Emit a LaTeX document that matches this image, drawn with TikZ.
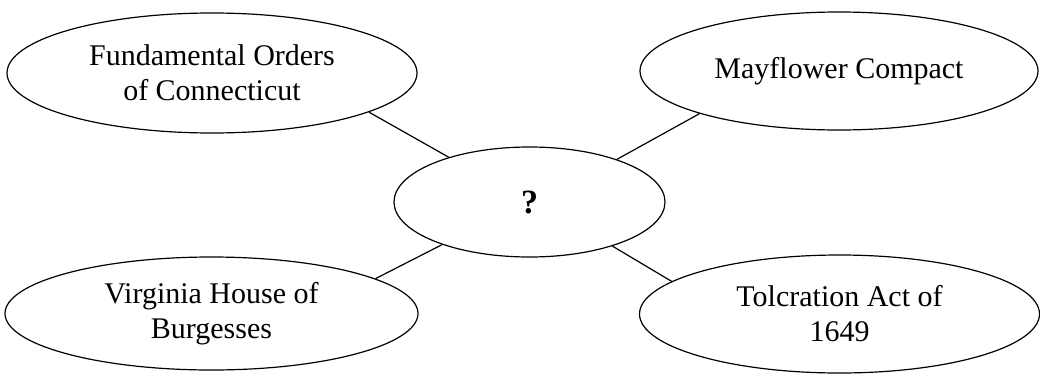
\documentclass[tikz,border=0pt]{standalone}
\usepackage{fontspec}
\setmainfont{Liberation Serif}
\usetikzlibrary{shapes.geometric}
\begin{document}
\begin{tikzpicture}[x=1pt,y=-1pt,
  bubble/.style={draw, ellipse, line width=1.2pt, inner sep=0pt, align=center,
    font=\fontsize{30}{35}\selectfont},
  link/.style={line width=1.2pt}]
\useasboundingbox (0,0) rectangle (1040,375);
\node[bubble, minimum width=410pt, minimum height=120pt] (tl) at (212,73) {Fundamental Orders\\of Connecticut};
\node[bubble, minimum width=398pt, minimum height=118pt] (tr) at (839,71) {Mayflower Compact};
\node[bubble, minimum width=271pt, minimum height=110pt, font=\fontsize{34}{40}\selectfont\bfseries] (c) at (529.5,202) {?};
\node[bubble, minimum width=413pt, minimum height=113pt] (bl) at (211.5,313.5) {Virginia House of\\Burgesses};
\node[bubble, minimum width=400pt, minimum height=118pt] (br) at (839.5,314) {Tolcration Act of\\1649};
\draw[link] (tl.-14) -- (c.151.4);
\draw[link] (c.26.2) -- (tr.197.8);
\draw[link] (c.206.2) -- (bl.12.4);
\draw[link] (c.-28.6) -- (br.169);
\end{tikzpicture}
\end{document}
